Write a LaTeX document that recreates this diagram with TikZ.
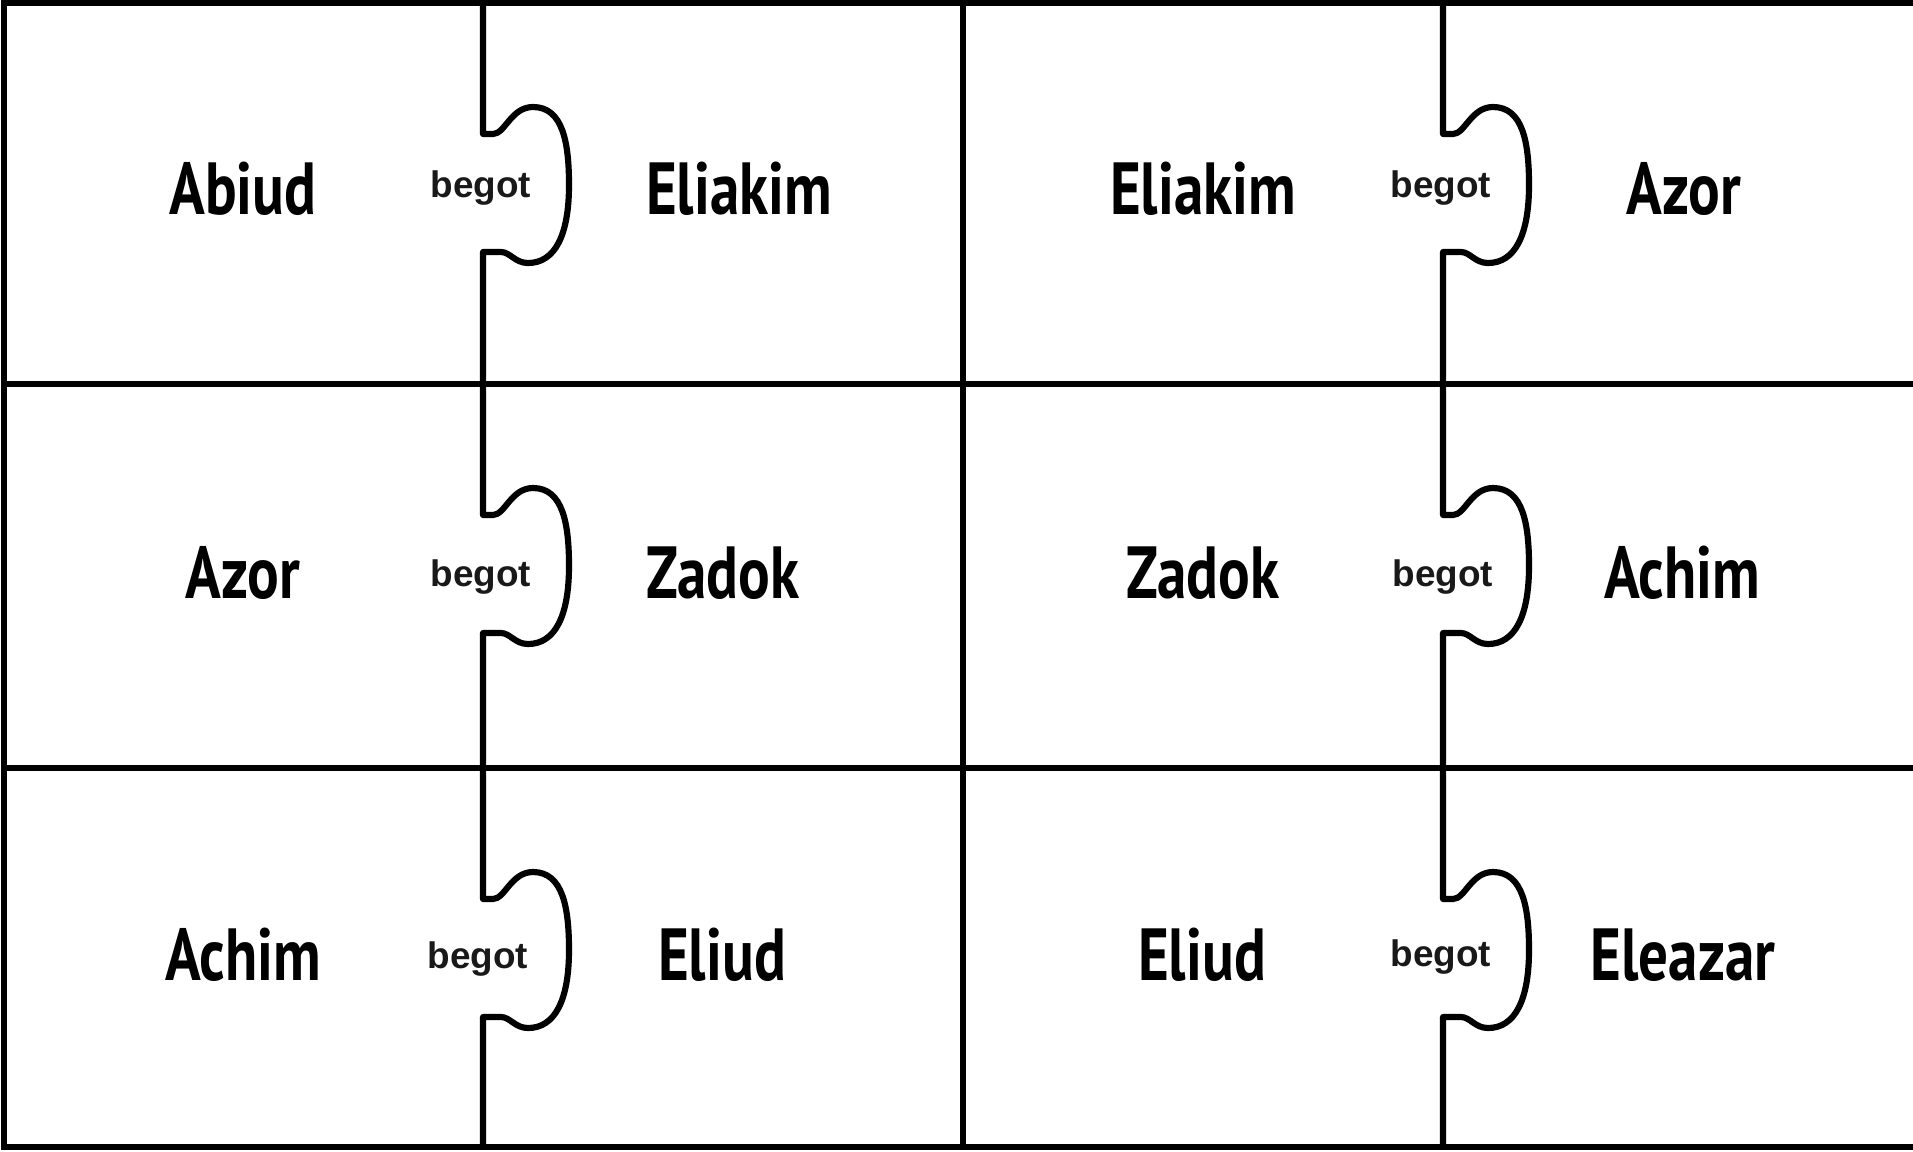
\documentclass[tikz,border=0pt]{standalone}
\usepackage{fontspec}
\newfontfamily\namefont[FakeStretch=0.8]{PT Sans}
\newfontfamily\verbfont{Liberation Sans}
\usetikzlibrary{positioning}
\tikzset{
  person/.style={
    % The font:
    font=\namefont\bfseries\fontsize{21}{21}\selectfont,
    % The rest
    inner sep=0pt,text=black},
  verb/.style={
    font=\verbfont\bfseries\fontsize{10.5}{10.5}\selectfont,
    inner sep=0pt,text=black!90},
  cut/.style={line width=1.85pt,draw=black},
  puzzle/.style={line width=1.75pt,draw=black,line join=round}
}

\begin{document}
\begin{tikzpicture}[x=0.01cm,y=-0.01cm]     % one unit = one pixel, y down
  \useasboundingbox (0,0) rectangle (1913,1151);

  % the sheet
  \draw[cut] (1913,3) -| (4,1147) -- (1913,1147);
  \draw[cut] (4,384) -- (1913,384);
  \draw[cut] (4,768) -- (1913,768);
  \draw[cut] (963,3) -- (963,1147);

  % the tabs
  \foreach \cx in {483,1443}
    \foreach \ry/\rb in {3/384,384/768,768/1147}
      \draw[puzzle] (\cx,\ry) -- (\cx,\ry+131) -- (\cx+10,\ry+131)
        .. controls (\cx+22,\ry+131) and (\cx+28,\ry+104) .. (\cx+50,\ry+104)
        .. controls (\cx+80,\ry+104) and (\cx+86,\ry+140) .. (\cx+86,\ry+182)
        .. controls (\cx+86,\ry+232) and (\cx+72,\ry+260) .. (\cx+45,\ry+260)
        .. controls (\cx+32,\ry+260) and (\cx+27,\ry+249) .. (\cx+18,\ry+249)
        -- (\cx,\ry+249) -- (\cx,\rb);

  % first row
  \node (abiud)    [person] at (243,189)  {Abiud};
  \node (begota)   [verb]   at (481,188)  {begot};
  \node (eliakima) [person] at (739,189)  {Eliakim};
  \node (eliakimb) [person] at (1203,189) {Eliakim};
  \node (begotb)   [verb]   at (1441,188) {begot};
  \node (azora)    [person] at (1684,189) {Azor};

  % second row
  \node (azorb)    [person] at (243,573)  {Azor};
  \node (begotc)   [verb]   at (481,577)  {begot};
  \node (zadoka)   [person] at (723,573)  {Zadok};
  \node (zadokb)   [person] at (1203,573) {Zadok};
  \node (begotd)   [verb]   at (1443,577) {begot};
  \node (achima)   [person] at (1682,573) {Achim};

  % third row
  \node (achimb)   [person] at (243,955)  {Achim};
  \node (begote)   [verb]   at (478,959)  {begot};
  \node (eliuda)   [person] at (722,955)  {Eliud};
  \node (eliudb)   [person] at (1202,955) {Eliud};
  \node (begotf)   [verb]   at (1441,957) {begot};
  \node (eleazar)  [person] at (1683,955) {Eleazar};
\end{tikzpicture}
\end{document}
